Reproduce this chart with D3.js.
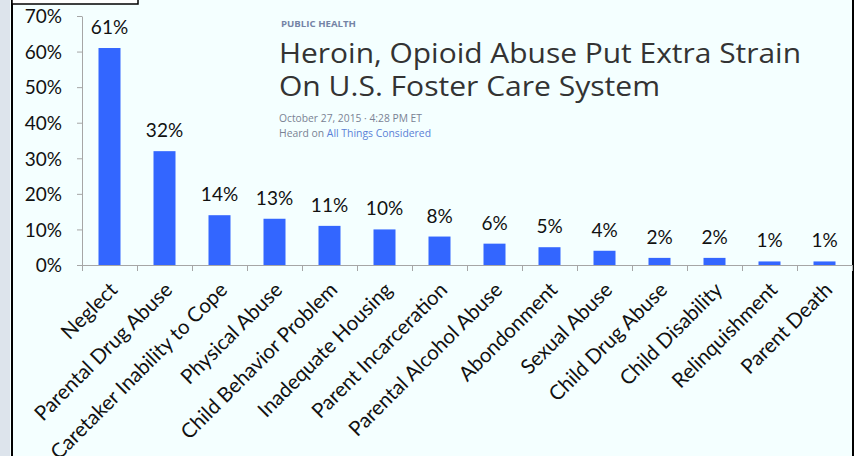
<!DOCTYPE html>
<html>
<head>
<meta charset="utf-8">
<script src="https://cdn.jsdelivr.net/npm/d3@7"></script>
<style>
  body { margin: 0; background: #f4ffff; }
  svg { display: block; }
  .lbl { font-family: Lato, "Open Sans", sans-serif; font-size: 19px; fill: #111; }
  .cat { font-size: 20.5px; }
  .axis path, .axis line { stroke: #a6a6a6; }
  .axis text { font-family: Lato, "Open Sans", sans-serif; font-size: 19px; fill: #111; }
  .head { font-family: "Open Sans", sans-serif; }
</style>
</head>
<body>
<svg width="854" height="456"></svg>
<script>
var categories = ['Neglect', 'Parental Drug Abuse', 'Caretaker Inability to Cope', 'Physical Abuse',
    'Child Behavior Problem', 'Inadequate Housing', 'Parent Incarceration', 'Parental Alcohol Abuse',
    'Abondonment', 'Sexual Abuse', 'Child Drug Abuse', 'Child Disability', 'Relinquishment', 'Parent Death'];
var percents = [61, 32, 14, 13, 11, 10, 8, 6, 5, 4, 2, 2, 1, 1];
var yTicks = [0, 10, 20, 30, 40, 50, 60, 70];

var svg = d3.select('svg');
var W = 854, H = 456;

svg.append('rect').attr('width', W).attr('height', H).attr('fill', '#f4ffff');
svg.append('rect').attr('width', 10).attr('height', H).attr('fill', '#dde4ec');
svg.append('rect').attr('x', 11).attr('width', 2).attr('height', H).attr('fill', '#000');
svg.append('rect').attr('x', 852).attr('width', 2).attr('height', H).attr('fill', '#000');
svg.append('rect').attr('x', 12).attr('y', -2).attr('width', 126).attr('height', 6)
    .attr('fill', '#fff').attr('stroke', '#000').attr('stroke-width', 1.5);

var x = d3.scaleBand().domain(categories).range([82, 852]).paddingInner(0.6).paddingOuter(0.3);
var xEdge = d3.scaleLinear().domain([0, categories.length]).range([82, 852]);
var y = d3.scaleLinear().domain([0, 70]).range([265, 16]);

// article header
var head = svg.append('g').attr('class', 'head');
head.append('text').attr('x', 281).attr('y', 27).attr('font-size', 9.5).attr('font-weight', 700)
    .attr('fill', '#7484a6').attr('textLength', 75).attr('lengthAdjust', 'spacingAndGlyphs')
    .text('PUBLIC HEALTH');
head.append('text').attr('x', 279).attr('y', 63).attr('font-size', 27).attr('fill', '#333')
    .attr('textLength', 522).attr('lengthAdjust', 'spacingAndGlyphs')
    .text('Heroin, Opioid Abuse Put Extra Strain');
head.append('text').attr('x', 279).attr('y', 96).attr('font-size', 27).attr('fill', '#333')
    .attr('textLength', 381).attr('lengthAdjust', 'spacingAndGlyphs')
    .text('On U.S. Foster Care System');
head.append('text').attr('x', 279).attr('y', 122).attr('font-size', 10).attr('fill', '#7a8294')
    .attr('textLength', 143).attr('lengthAdjust', 'spacingAndGlyphs')
    .text('October 27, 2015 · 4:28 PM ET');
var heard = head.append('text').attr('x', 279).attr('y', 137).attr('font-size', 10).attr('fill', '#7a8294')
    .attr('textLength', 152).attr('lengthAdjust', 'spacingAndGlyphs');
heard.append('tspan').text('Heard on ');
heard.append('tspan').attr('fill', '#5b7fd6').text('All Things Considered');

// axes
svg.append('g').attr('class', 'axis')
    .attr('transform', 'translate(82,0)')
    .call(d3.axisLeft(y).tickValues(yTicks).tickSize(5).tickSizeOuter(0).tickPadding(15)
        .tickFormat(function(d) { return d + '%'; }))
    .selectAll('text').attr('dy', '0.36em');

svg.append('g').attr('class', 'axis')
    .attr('transform', 'translate(0,265)')
    .call(d3.axisBottom(xEdge).ticks(categories.length).tickSize(6).tickSizeOuter(0).tickFormat(''));

// bars
svg.selectAll('.bar').data(percents).enter().append('rect')
    .attr('class', 'bar')
    .attr('x', function(d, i) { return x(categories[i]); })
    .attr('y', function(d) { return y(d); })
    .attr('width', x.bandwidth())
    .attr('height', function(d) { return y(0) - y(d); })
    .attr('fill', '#3366ff');

svg.selectAll('.val').data(percents).enter().append('text')
    .attr('class', 'lbl')
    .attr('text-anchor', 'middle')
    .attr('x', function(d, i) { return x(categories[i]) + x.bandwidth() / 2; })
    .attr('y', function(d) { return y(d) - 14; })
    .text(function(d) { return d + '%'; });

// category labels, slanted under each bar
svg.selectAll('.cat').data(categories).enter().append('text')
    .attr('class', 'lbl cat')
    .attr('text-anchor', 'end')
    .attr('transform', function(d) {
        return 'translate(' + (x(d) + x.bandwidth() / 2 - 1) + ',281) rotate(-45)';
    })
    .attr('dy', '0.7em')
    .text(function(d) { return d; });
</script>
</body>
</html>
